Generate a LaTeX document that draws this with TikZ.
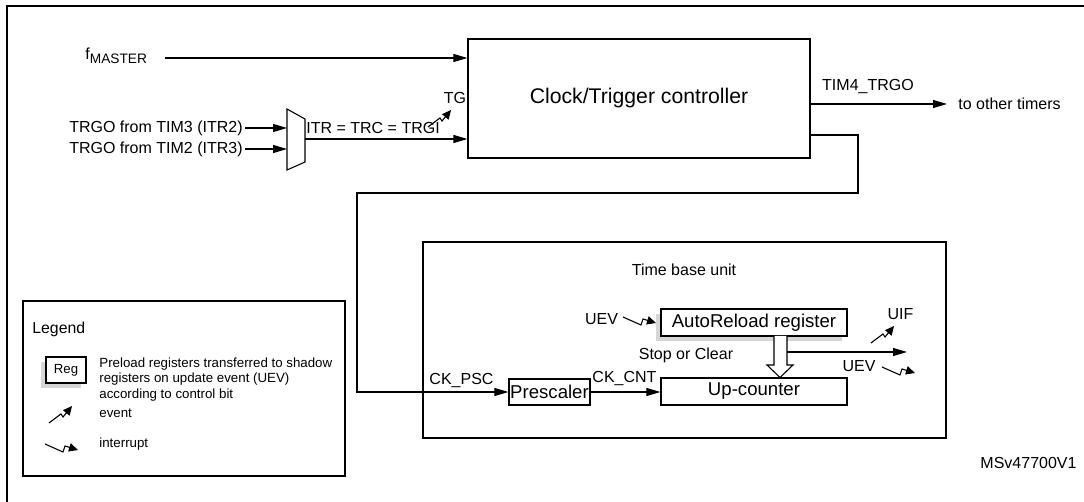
\documentclass[tikz,border=0pt]{standalone}
\usepackage{fontspec}
\setmainfont{Liberation Sans}
\usetikzlibrary{arrows.meta,shadows}

\tikzset{
  lbl/.style={inner sep=0pt, font=\fontsize{8}{9.6}\selectfont},
  lgdtxt/.style={inner sep=0pt, font=\fontsize{6.65}{7.75}\selectfont},
  blk/.style={draw, line width=0.6pt, inner sep=0pt, font=\fontsize{9.3}{11}\selectfont},
  shd/.style={drop shadow={shadow xshift=-2.5pt, shadow yshift=-2.5pt, fill=black!40, opacity=0.4}},
  wire/.style={line width=0.55pt},
  arr/.style={line width=0.55pt, -{Triangle[length=7pt,width=4pt]}},
  evtsym/.pic={\draw[line width=0.55pt, -{Triangle[length=4.5pt,width=4.2pt]}] (0,0) -- (12,-9) -- (14,-6) -- (23,-17);},
  intsym/.pic={\draw[line width=0.55pt, -{Triangle[length=4.5pt,width=4.2pt]}] (0,0) -- (18,8) -- (20,2) -- (33,6);}
}

\begin{document}
\begin{tikzpicture}[x=0.5pt, y=-0.5pt]
\useasboundingbox (0,0) rectangle (1084,502);
% frame (cut at right and bottom)
\draw[line width=1.1pt] (7,502) -- (7,6) -- (1084,6);

% controller and its inputs
\node[blk, minimum width=171pt, minimum height=59.5pt, font=\fontsize{10.6}{12.7}\selectfont] (ctrl) at (639,98.5) {Clock/Trigger controller};
\node[lbl, anchor=west] (fm) at (85,56) {f\raisebox{-0.45ex}{\fontsize{6.85}{8}\selectfont MASTER}};
\coordinate (fmin) at (165,58);
\draw[arr] (fmin) -- (ctrl.west |- fmin);

\node[lbl, anchor=east] (itr2) at (243,128) {TRGO from TIM3 (ITR2)};
\node[lbl, anchor=east] (itr3) at (243,149) {TRGO from TIM2 (ITR3)};
% multiplexer
\draw[wire] (287,109) -- (305,119) -- (305,162) -- (287,170) -- cycle;
\coordinate (mx2) at (287,128);
\coordinate (mx3) at (287,149);
\coordinate (mxo) at (305,139);
\draw[arr] ([xshift=1pt]itr2.east) -- (mx2);
\draw[arr] ([xshift=1pt]itr3.east) -- (mx3);
\draw[arr] (mxo) -- (ctrl.west |- mxo);
\node[lbl, anchor=west] (trgi) at (306,128) {ITR = TRC = TRGI};
\node[lbl] (tg) at (455,98) {TG};
\pic at (428,127) {evtsym};

% trigger output
\node[lbl] (tim4) at (868,87) {TIM4\_TRGO};
\node[lbl, anchor=west] (oth) at (958,104) {to other timers};
\draw[arr] (ctrl.east |- oth) -- ([xshift=-5.5pt]oth.west);

% time base unit
\node[draw, line width=0.6pt, minimum width=261.5pt, minimum height=98pt, inner sep=0pt] (tbu) at (684.5,340) {};
\node[lbl] (tbut) at (684,270) {Time base unit};
\node[blk, fill=white, shd, minimum width=93pt, minimum height=13.5pt] (arl) at (754,322.5) {AutoReload register};
\node[blk, minimum width=93pt, minimum height=13.5pt] (cnt) at (754,391.5) {Up-counter};
\node[blk, minimum width=40.5pt, minimum height=13pt] (psc) at (549.5,392) {Prescaler};
\node[lbl] (ckpsc) at (461.5,381) {CK\_PSC};
\node[lbl] (ckcnt) at (624.5,379) {CK\_CNT};
\draw[arr] (psc.east) -- (psc.east -| cnt.west);

% feedback to prescaler
\coordinate (fb1) at (858,193);
\coordinate (fb2) at (357,392);
\draw[arr] (ctrl.east |- 0,135) -| (fb1) -| (fb2) -- (psc.west);

\node[lbl] (uev1) at (601.5,319) {UEV};
\pic at (623,317) {intsym};
\node[lbl] (soc) at (686,355) {Stop or Clear};
\draw[wire, fill=white] (774,336) -- (774,365) -- (767,365) -- (780,377.5) -- (793,365) -- (787,365) -- (787,336);
\coordinate (upd) at (787,352);
\coordinate (updo) at (907,352);
\draw[arr] (upd) -- (updo);
\node[lbl] (uif) at (900.5,314) {UIF};
\pic at (871,343) {evtsym};
\node[lbl] (uev2) at (859,366) {UEV};
\pic at (882,367) {intsym};

% legend
\node[draw, line width=0.6pt, minimum width=161pt, minimum height=87.5pt, inner sep=0pt] (lgd) at (184,388.5) {};
\node[lbl, anchor=west, font=\fontsize{7.9}{9.5}\selectfont] (lgdt) at (32,329) {Legend};
\node[blk, fill=white, shd, minimum width=20pt, minimum height=13pt, font=\fontsize{6.6}{8}\selectfont] (reg) at (66,370) {Reg};
\node[lgdtxt, anchor=west, align=left] (lgd1) at (99,379.5) {Preload registers transferred to shadow\\registers on update event (UEV)\\according to control bit};
\pic at (49,423) {evtsym};
\node[lgdtxt, anchor=west] (lgd2) at (99,413) {event};
\pic at (45,444) {intsym};
\node[lgdtxt, anchor=west] (lgd3) at (99,444) {interrupt};

\node[lbl] (docid) at (1028.5,463) {MSv47700V1};
\end{tikzpicture}
\end{document}
